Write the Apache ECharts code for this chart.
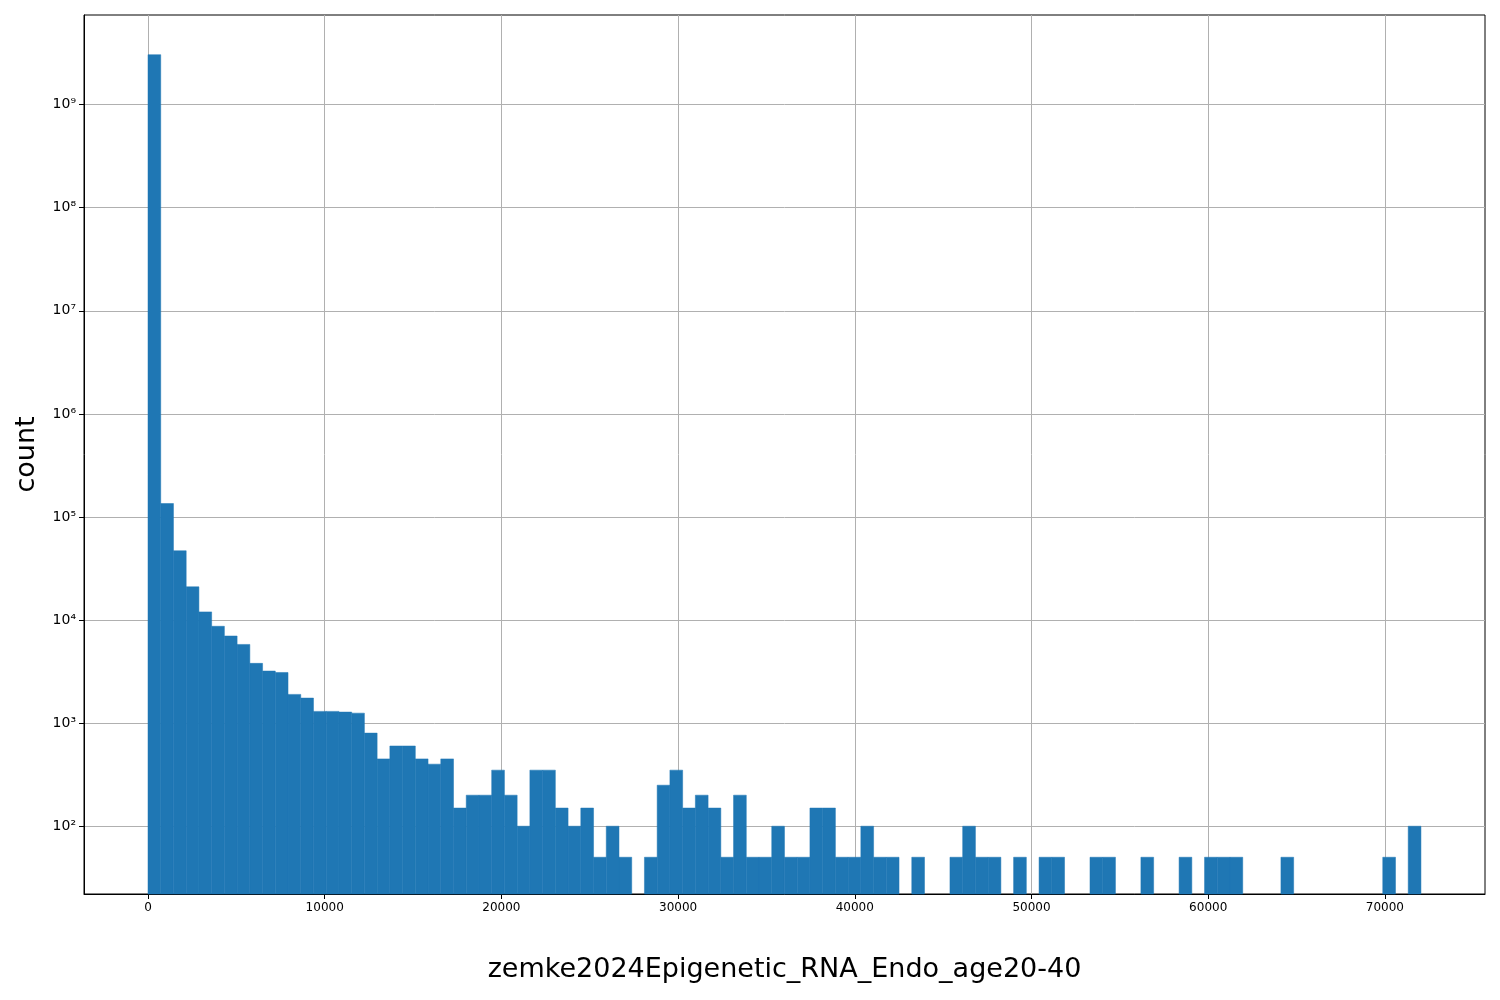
<!DOCTYPE html>
<html><head><meta charset="utf-8">
<script src="https://cdn.jsdelivr.net/npm/echarts@6/dist/echarts.min.js"></script>
<style>html,body{margin:0;padding:0;background:#fff}#c{width:1500px;height:1000px}</style>
</head><body><div id="c"></div>
<script>
const binStart = 0;
const binWidth = 720.4;
const counts = [3.05e9,1.35e5,4.7e4,2.1e4,1.2e4,8.7e3,7e3,5.8e3,3.8e3,3.2e3,
3.1e3,1.9e3,1.75e3,1.3e3,1.3e3,1.28e3,1.25e3,800,450,600,
600,450,400,450,150,200,200,350,200,100,
350,350,150,100,150,50,100,50,0,50,
250,350,150,200,150,50,200,50,50,100,
50,50,150,150,50,50,100,50,50,0,
50,0,0,50,100,50,50,0,50,0,
50,50,0,0,50,50,0,0,50,0,
0,50,0,50,50,50,0,0,0,50,
0,0,0,0,0,0,0,50,0,100];
const xTicks = [0,10000,20000,30000,40000,50000,60000,70000];
const yTicks = [1e2,1e3,1e4,1e5,1e6,1e7,1e8,1e9];
const sup = {'0':'⁰','1':'¹','2':'²','3':'³','4':'⁴','5':'⁵','6':'⁶','7':'⁷','8':'⁸','9':'⁹'};
const data = counts.map((v,i)=>[binStart+i*binWidth, binStart+(i+1)*binWidth, v]).filter(d=>d[2]>0);
const yMin = 22;
const chart = echarts.init(document.getElementById('c'));
chart.setOption({
  animation:false,
  grid:{left:84,right:15,top:15,bottom:106,show:true,borderColor:'#000',borderWidth:1},
  xAxis:{type:'value',min:-3622,max:75665,
    name:'zemke2024Epigenetic_RNA_Endo_age20-40',nameLocation:'middle',nameGap:62,
    nameTextStyle:{fontSize:27,color:'#000',fontFamily:'DejaVu Sans'},
    axisLine:{onZero:false,lineStyle:{color:'#000'}},
    axisTick:{customValues:xTicks,length:5,lineStyle:{color:'#000'}},
    axisLabel:{customValues:xTicks,color:'#000',fontSize:12,fontFamily:'DejaVu Sans',margin:8,formatter:v=>String(v)},
    splitLine:{show:true,lineStyle:{color:'#b0b0b0',width:1}}},
  yAxis:{type:'log',logBase:10,min:yMin,max:7.4e9,
    name:'count',nameLocation:'middle',nameGap:44,
    nameTextStyle:{fontSize:27,color:'#000',fontFamily:'DejaVu Sans'},
    axisLine:{show:true,onZero:false,lineStyle:{color:'#000'}},
    axisTick:{show:true,customValues:yTicks,length:5,lineStyle:{color:'#000'}},
    axisLabel:{customValues:yTicks,color:'#000',fontSize:14,fontFamily:'DejaVu Sans',
      formatter:v=>'10'+String(Math.round(Math.log10(v))).split('').map(c=>sup[c]).join('')},
    splitLine:{show:true,lineStyle:{color:'#b0b0b0',width:1}}},
  series:[{type:'custom',data:data,encode:{x:[0,1],y:2},
    renderItem:(p,api)=>{
      const a=api.coord([api.value(0),api.value(2)]);
      const b=api.coord([api.value(1),yMin]);
      return {type:'rect',shape:{x:a[0],y:a[1],width:b[0]-a[0],height:b[1]-a[1]},
        style:{fill:'#1f77b4',stroke:'#1f77b4',lineWidth:0.5}};
    }}]
});
</script></body></html>
